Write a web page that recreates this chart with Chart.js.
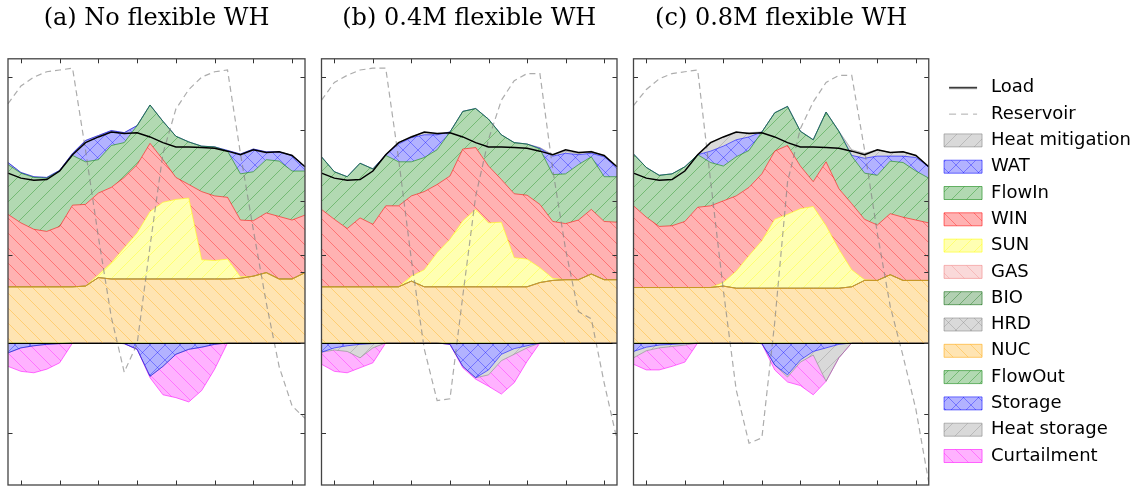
<!DOCTYPE html>
<html>
<head>
<meta charset="utf-8">
<script src="https://cdn.jsdelivr.net/npm/chart.js"></script>
<style>
  body { margin: 0; background: #fff; }
  #wrap { position: relative; width: 1141px; height: 487px; overflow: hidden; }
  #wrap canvas { position: absolute; top: 0; }
</style>
</head>
<body>
<div id="wrap">
  <canvas id="chartA" width="313" height="487" style="left:0px"></canvas>
  <canvas id="chartB" width="313" height="487" style="left:313px"></canvas>
  <canvas id="chartC" width="515" height="487" style="left:626px"></canvas>
</div>
<script>
// hours of the day shown in each panel
const hours = [0, 1, 2, 3, 4, 5, 6, 7, 8, 9, 10, 11, 12, 13, 14, 15, 16, 17, 18, 19, 20, 21, 22, 23];
const xTicks = [1, 4, 7, 10, 13, 16, 19, 22];
const powerTicks = [-10, 0, 10, 20, 30];
const reservoirTicks = [10, 20, 30];

const legendOrder = ['Load', 'Reservoir', 'Heat mitigation', 'WAT', 'FlowIn', 'WIN', 'SUN', 'GAS', 'BIO', 'HRD', 'NUC', 'FlowOut', 'Storage', 'Heat storage', 'Curtailment'];
const titles = ['(a) No flexible WH', '(b) 0.4M flexible WH', '(c) 0.8M flexible WH'];

// same load in all panels
const load = [23.9, 23.2, 22.9, 23.0, 24.2, 26.5, 28.2, 29.0, 29.7, 29.5, 29.6, 29.0, 28.2, 27.6, 27.6, 27.5, 27.4, 27.0, 26.5, 27.2, 26.8, 26.9, 26.4, 24.8];
const zeroSeries = [0, 0, 0, 0, 0, 0, 0, 0, 0, 0, 0, 0, 0, 0, 0, 0, 0, 0, 0, 0, 0, 0, 0, 0];

// (a) no flexible WH
const nucA = [7.9, 7.9, 7.9, 7.9, 7.9, 7.9, 8.0, 9.2, 9.0, 9.0, 9.0, 9.0, 9.0, 9.0, 9.0, 9.0, 9.0, 9.0, 9.1, 9.4, 9.9, 9.0, 9.0, 9.9];
const sunA = [0, 0, 0, 0, 0, 0, 0, 0.4, 2.3, 4.4, 6.5, 9.5, 10.8, 11.2, 11.4, 2.7, 2.6, 2.8, 0.2, 0, 0, 0, 0, 0];
const winA = [10.2, 9.0, 8.1, 7.8, 8.5, 11.5, 11.5, 11.5, 10.6, 9.9, 9.6, 9.6, 6.0, 3.1, 1.9, 9.6, 9.1, 8.7, 8.0, 7.8, 8.4, 8.8, 8.3, 8.1];
const flowInA = [7.0, 7.0, 7.3, 7.5, 7.8, 7.0, 6.0, 4.7, 5.9, 4.9, 5.5, 5.4, 5.4, 5.8, 6.0, 6.4, 6.9, 6.5, 6.5, 6.9, 7.5, 7.8, 6.9, 6.2];
const watA = [0.3, 0.1, 0.1, 0.1, 0.1, 0.3, 3.0, 3.4, 2.1, 1.4, 0, 0, 0, 0, 0, 0, 0, 0.1, 2.8, 3.2, 1.1, 1.3, 2.2, 0.6];
const heatMitA = [0, 0, 0, 0, 0, 0, 0, 0, 0, 0, 0, 0, 0, 0, 0, 0, 0, 0, 0, 0, 0, 0, 0, 0];
const storageA = [-1.4, -0.7, -0.4, -0.2, -0.1, 0, 0, 0, 0, -0.1, -0.9, -4.7, -3.3, -1.6, -0.9, -0.6, -0.2, 0, 0, 0, 0, 0, 0, 0];
const heatStoreA = [0, 0, 0, 0, 0, 0, 0, 0, 0, 0, 0, 0, 0, 0, 0, 0, 0, 0, 0, 0, 0, 0, 0, 0];
const curtailA = [-1.9, -3.3, -3.8, -3.5, -2.7, 0, 0, 0, 0, 0, 0, -0.2, -4.0, -6.1, -7.4, -6.1, -3.5, 0, 0, 0, 0, 0, 0, 0];
const reservoirA = [28.5, 29.5, 30.0, 30.3, 30.4, 30.5, 25.9, 21.0, 16.5, 13.4, 15.0, 20.5, 25.7, 28.2, 29.3, 30.0, 30.3, 30.4, 25.7, 21.4, 17.3, 13.7, 11.5, 10.8];

// (b) 0.4M flexible WH
const nucB = [7.9, 7.9, 7.9, 7.9, 7.9, 7.9, 7.9, 8.7, 7.9, 7.9, 7.9, 7.9, 7.9, 7.9, 7.9, 7.9, 7.9, 8.5, 8.8, 8.9, 8.9, 9.7, 8.9, 8.9];
const sunB = [0, 0, 0, 0, 0, 0, 0, 0.7, 2.4, 4.8, 6.7, 9.3, 10.9, 9.0, 9.1, 4.1, 3.9, 2.1, 0.3, 0, 0, 0, 0, 0];
const winB = [10.9, 9.5, 8.2, 9.7, 8.8, 11.4, 11.4, 11.3, 11.0, 9.6, 8.9, 10.1, 8.7, 8.0, 6.0, 9.0, 9.0, 8.9, 8.0, 7.9, 8.4, 9.1, 8.2, 8.1];
const flowInB = [7.4, 6.7, 7.3, 7.7, 7.8, 7.1, 6.2, 4.8, 4.8, 4.9, 6.2, 5.3, 5.5, 6.6, 6.3, 7.2, 7.2, 7.8, 6.6, 7.0, 7.8, 7.4, 6.3, 6.4];
const watB = [0, 0, 0, 0, 0, 0.1, 2.5, 3.4, 3.2, 2.1, 0, 0, 0, 0, 0, 0, 0, 0.1, 2.6, 2.9, 1.4, 0.5, 2.8, 1.4];
const heatMitB = [0, 0, 0, 0, 0, 0, 0.2, 0.2, 0.3, 0.1, 0, 0, 0, 0, 0, 0, 0, 0.1, 0.2, 0.3, 0.2, 0.3, 0.1, 0];
const storageB = [-1.3, -0.7, -0.4, -0.2, -0.1, 0, 0, 0, 0, 0, -0.2, -3.3, -4.9, -3.8, -1.6, -0.8, -0.4, 0, 0, 0, 0, 0, 0, 0];
const heatStoreB = [0, -0.3, -0.8, -1.9, -0.6, 0, 0, 0, 0, 0, 0, 0, 0, -0.7, -0.9, -0.8, -0.3, 0, 0, 0, 0, 0, 0, 0];
const curtailB = [-1.7, -3.0, -3.0, -1.4, -2.1, 0, 0, 0, 0, 0, 0, -0.2, -0.2, -1.6, -4.7, -4.0, -1.9, 0, 0, 0, 0, 0, 0, 0];
const reservoirB = [28.7, 29.7, 30.1, 30.4, 30.5, 30.5, 25.4, 19.7, 14.7, 11.8, 11.9, 17.7, 23.3, 26.5, 28.7, 29.8, 30.2, 30.2, 24.8, 20.3, 16.8, 16.4, 12.8, 9.6];

// (c) 0.8M flexible WH
const nucC = [7.8, 7.8, 7.8, 7.8, 7.8, 7.8, 7.8, 8.0, 7.7, 7.7, 7.7, 7.7, 7.7, 7.7, 7.7, 7.7, 7.7, 7.9, 8.8, 8.8, 9.6, 8.8, 8.8, 8.8];
const sunC = [0, 0, 0, 0, 0, 0, 0, 0.5, 2.4, 4.6, 6.7, 9.7, 10.4, 11.2, 11.5, 8.8, 5.5, 2.4, 0.1, 0, 0, 0, 0, 0];
const winC = [11.5, 9.9, 8.6, 8.7, 9.3, 11.3, 11.5, 11.5, 10.6, 9.6, 9.4, 9.6, 9.7, 6.0, 3.5, 9.0, 8.5, 9.3, 8.5, 7.8, 8.6, 8.9, 8.5, 8.1];
const flowInC = [7.3, 7.0, 7.2, 7.3, 7.7, 7.4, 6.1, 4.9, 5.5, 5.2, 5.9, 5.4, 5.5, 4.9, 5.9, 7.0, 8.1, 6.7, 6.5, 7.0, 7.4, 7.7, 6.9, 6.3];
const watC = [0, 0, 0, 0, 0, 0, 1.6, 2.8, 2.4, 1.9, 0, 0, 0, 0, 0, 0, 0, 0.1, 2.1, 2.7, 0.7, 0.9, 1.9, 1.6];
const heatMitC = [0, 0, 0, 0, 0, 0, 1.1, 1.3, 1.0, 0.6, 0, 0, 0, 0, 0, 0, 0, 0.8, 0.7, 0.9, 0.5, 0.6, 0.3, 0];
const storageC = [-1.2, -0.6, -0.3, -0.2, -0.1, 0, 0, 0, 0, 0, -0.1, -3.1, -4.5, -2.4, -1.2, -0.7, -0.2, 0, 0, 0, 0, 0, 0, 0];
const heatStoreC = [-0.9, -0.5, -0.4, -0.3, -0.2, 0, 0, 0, 0, 0, 0, 0, -0.3, -0.3, -0.5, -4.7, -1.9, 0, 0, 0, 0, 0, 0, 0];
const curtailC = [-0.9, -2.7, -3.1, -2.8, -2.4, 0, 0, 0, 0, 0, 0, -0.7, -0.7, -3.3, -5.6, 0, 0, 0, 0, 0, 0, 0, 0, 0];
const reservoirC = [28.4, 29.3, 29.9, 30.2, 30.3, 30.4, 24.2, 18.0, 12.4, 9.4, 9.7, 16.2, 24.1, 27.1, 28.6, 29.7, 30.1, 30.1, 25.9, 21.2, 17.1, 14.3, 11.3, 7.2];

Chart.defaults.font.family = 'DejaVu Sans';
Chart.defaults.color = '#000';

// matplotlib-like hatch fill
function hatch(rgb, kind, step) {
  const c = document.createElement('canvas');
  c.width = step;
  c.height = step;
  const g = c.getContext('2d');
  g.fillStyle = 'rgba(' + rgb + ',0.3)';
  g.fillRect(0, 0, step, step);
  g.strokeStyle = 'rgba(' + rgb + ',0.35)';
  g.lineWidth = 1;
  g.beginPath();
  for (let k = -1; k <= 1; k++) {
    if (kind === '/' || kind === 'x') { g.moveTo(k * step, step); g.lineTo(k * step + step, 0); }
    if (kind === '\\' || kind === 'x') { g.moveTo(k * step, 0); g.lineTo(k * step + step, step); }
  }
  g.stroke();
  return g.createPattern(c, 'repeat');
}

// short line symbol for the legend (Load / Reservoir)
function lineIcon(color, width, dash) {
  const c = document.createElement('canvas');
  c.width = 38;
  c.height = 13;
  const g = c.getContext('2d');
  g.strokeStyle = color;
  g.lineWidth = width;
  g.setLineDash(dash);
  g.beginPath();
  g.moveTo(5, 6.5);
  g.lineTo(33, 6.5);
  g.stroke();
  return c;
}

function area(label, data, rgb, kind, step, stack, fill) {
  return {
    label: label,
    data: data,
    stack: stack,
    fill: fill,
    yAxisID: 'y',
    backgroundColor: hatch(rgb, kind, step),
    borderColor: 'rgba(' + rgb + ',0.55)',
    borderWidth: 1,
    pointRadius: 0,
    pointStyle: 'rect',
    pointBorderWidth: 1
  };
}

// draws frame, inward ticks and the zero line
const framePlugin = {
  id: 'frame',
  afterDatasetsDraw(chart) {
    const ctx = chart.ctx;
    const a = chart.chartArea;
    const sx = chart.scales.x, sy = chart.scales.y, sr = chart.scales.yRes;
    const L = 4.5;
    ctx.save();
    ctx.strokeStyle = '#000';
    ctx.lineWidth = 1.2;
    const y0 = Math.round(sy.getPixelForValue(0)) + 0.5;
    ctx.beginPath();
    ctx.moveTo(a.left, y0);
    ctx.lineTo(a.right, y0);
    ctx.stroke();

    ctx.strokeStyle = '#333';
    ctx.lineWidth = 1;
    ctx.beginPath();
    xTicks.forEach(v => {
      const x = Math.round(sx.getPixelForValue(v)) + 0.5;
      ctx.moveTo(x, a.bottom); ctx.lineTo(x, a.bottom - L);
      ctx.moveTo(x, a.top); ctx.lineTo(x, a.top + L);
    });
    reservoirTicks.forEach(v => {
      const y = Math.round(sr.getPixelForValue(v)) + 0.5;
      ctx.moveTo(a.left, y); ctx.lineTo(a.left + L, y);
      ctx.moveTo(a.right, y); ctx.lineTo(a.right - L, y);
    });
    powerTicks.forEach(v => {
      const y = Math.round(sy.getPixelForValue(v)) + 0.5;
      ctx.moveTo(a.right, y); ctx.lineTo(a.right - L, y);
    });
    ctx.stroke();

    ctx.strokeStyle = '#444';
    ctx.lineWidth = 1.3;
    ctx.strokeRect(a.left, a.top, a.right - a.left, a.bottom - a.top);
    ctx.restore();
  }
};

function makePanel(id, title, s, pad, withLegend) {
  const datasets = [
    { label: 'Load', data: load, stack: 'load', yAxisID: 'y', fill: false, borderColor: '#000', borderWidth: 1.5,
      pointRadius: 0, pointStyle: lineIcon('#000', 1.5, []), pointBorderWidth: 0 },
    { label: 'Reservoir', data: s.reservoir, yAxisID: 'yRes', fill: false, borderColor: 'rgba(128,128,128,0.65)',
      borderWidth: 1.2, borderDash: [6, 4], pointRadius: 0,
      pointStyle: lineIcon('rgba(128,128,128,0.65)', 1.2, [7, 5]), pointBorderWidth: 0 },
    area('NUC', s.nuc, '255,165,0', '\\', 15, 'pos', 'origin'),
    area('HRD', zeroSeries, '128,128,128', 'x', 15, 'pos', '-1'),
    area('BIO', zeroSeries, '0,100,0', '/', 11, 'pos', '-1'),
    area('GAS', zeroSeries, '240,128,128', '\\', 15, 'pos', '-1'),
    area('SUN', s.sun, '255,255,0', '/', 15, 'pos', '-1'),
    area('WIN', s.win, '255,0,0', '\\', 15, 'pos', '-1'),
    area('FlowIn', s.flowIn, '0,128,0', '/', 15, 'pos', '-1'),
    area('WAT', s.wat, '0,0,255', 'x', 15, 'pos', '-1'),
    area('Heat mitigation', s.heatMit, '128,128,128', '/', 15, 'pos', '-1'),
    area('FlowOut', zeroSeries, '0,128,0', '/', 11, 'neg', 'origin'),
    area('Storage', s.storage, '0,0,255', 'x', 15, 'neg', '-1'),
    area('Heat storage', s.heatStore, '128,128,128', '/', 15, 'neg', '-1'),
    area('Curtailment', s.curtail, '255,0,255', '\\', 15, 'neg', '-1')
  ];

  const yScale = { type: 'linear', stacked: true, min: -20, max: 40, display: false };
  if (withLegend) {
    // invisible right axis, only used as a gap between frame and legend
    Object.assign(yScale, { display: true, position: 'right',
      grid: { display: false, drawTicks: true, tickLength: 7 },
      ticks: { display: false }, border: { display: false } });
  }

  return new Chart(document.getElementById(id), {
    type: 'line',
    data: { labels: hours, datasets: datasets },
    options: {
      responsive: false,
      animation: false,
      events: [],
      layout: { padding: pad },
      elements: { line: { tension: 0 } },
      scales: {
        x: { type: 'category', display: false, offset: false },
        y: yScale,
        yRes: { type: 'linear', position: 'left', min: 7.05, max: 31.03, display: false }
      },
      plugins: {
        tooltip: { enabled: false },
        title: {
          display: true, text: title, fullSize: false, color: '#000',
          font: { family: 'DejaVu Serif', size: 24, weight: 'normal', lineHeight: 1.2 },
          padding: { top: 4, bottom: 26 }
        },
        legend: {
          display: withLegend,
          position: 'right',
          align: 'center',
          fullSize: false,
          maxWidth: 260,
          labels: {
            usePointStyle: true,
            pointStyleWidth: 38,
            boxHeight: 13,
            padding: 8.3,
            color: '#000',
            font: { family: 'DejaVu Sans', size: 18 },
            sort: (a, b) => legendOrder.indexOf(a.text) - legendOrder.indexOf(b.text)
          }
        }
      }
    },
    plugins: [framePlugin]
  });
}

makePanel('chartA', titles[0], {
  nuc: nucA, sun: sunA, win: winA, flowIn: flowInA, wat: watA, heatMit: heatMitA,
  storage: storageA, heatStore: heatStoreA, curtail: curtailA, reservoir: reservoirA
}, { left: 8, right: 8, top: 0, bottom: 2 }, false);

makePanel('chartB', titles[1], {
  nuc: nucB, sun: sunB, win: winB, flowIn: flowInB, wat: watB, heatMit: heatMitB,
  storage: storageB, heatStore: heatStoreB, curtail: curtailB, reservoir: reservoirB
}, { left: 8.5, right: 9, top: 0, bottom: 2 }, false);

makePanel('chartC', titles[2], {
  nuc: nucC, sun: sunC, win: winC, flowIn: flowInC, wat: watC, heatMit: heatMitC,
  storage: storageC, heatStore: heatStoreC, curtail: curtailC, reservoir: reservoirC
}, { left: 7.5, right: 0, top: 0, bottom: 2 }, true);
</script>
</body>
</html>
